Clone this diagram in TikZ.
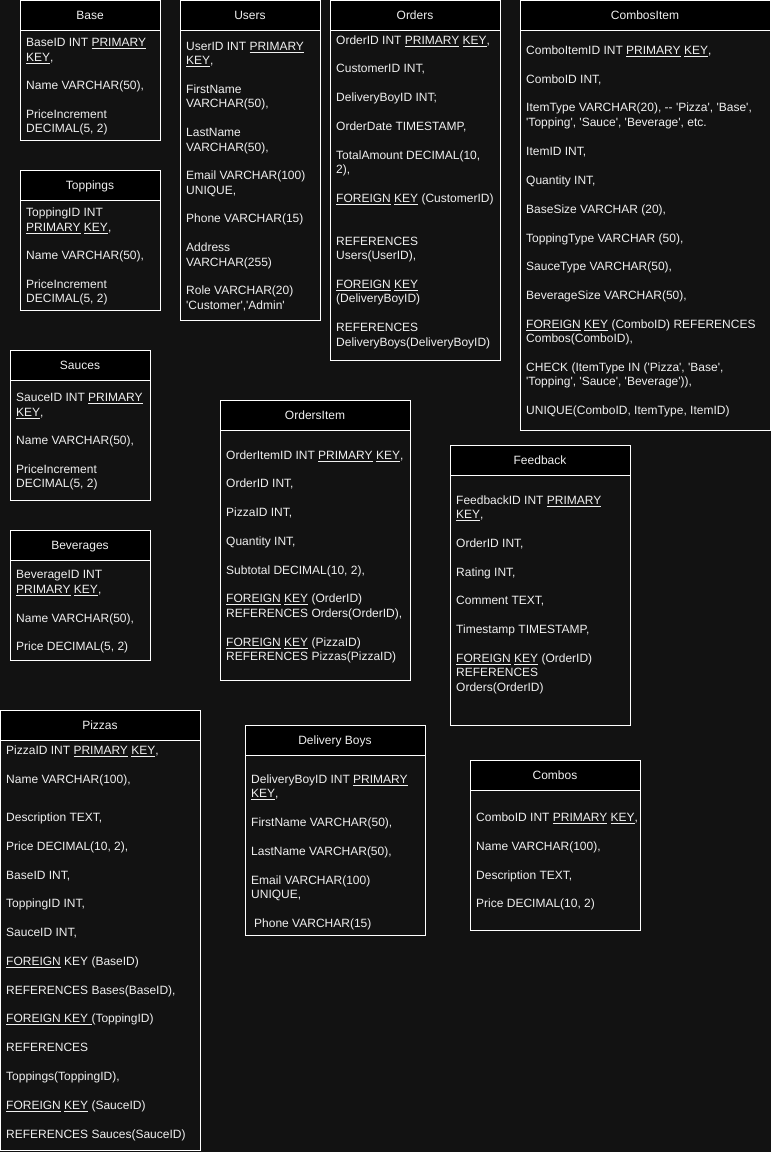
\documentclass[tikz,border=0pt]{standalone}
\usepackage{fontspec}
\setmainfont{Liberation Sans}
\definecolor{bgc}{HTML}{121212}
\definecolor{txc}{HTML}{F0F0F0}
\newcommand\sq{\textquotesingle}
\newcommand\ul[1]{\underline{#1}}
\tikzset{
  tbody/.style={draw=white, line width=1pt, fill=bgc, inner sep=0pt, rectangle},
  thead/.style={draw=white, line width=1pt, fill=black, inner sep=0pt, rectangle, text=txc, font=\fontsize{12}{14}\selectfont, text height=8.6pt, text depth=0pt},
  rowtxt/.style={anchor=west, inner sep=0pt, text=txc, font=\fontsize{12}{14}\selectfont, text height=8.6pt, text depth=0pt}
}
\newcommand\dbtable[6]{%
  \node[tbody, minimum width={#4-#2}, minimum height={#5-#3}] (#1) at ({(#2+#4)/2},{(#3+#5)/2}) {};
  \node[thead, minimum width={#4-#2}, minimum height=30] (#1-h) at ({(#2+#4)/2},{#3+15}) {#6};
}
\newcommand\dbrow[4]{\node[rowtxt] (#1) at (#2,#3) {#4};}
\begin{document}
\begin{tikzpicture}[x=1pt,y=-1pt]
\useasboundingbox (0,0) rectangle (771,1152);
\fill[bgc] (0,0) rectangle (771,1152);

% Base
\dbtable{base}{20}{0}{160}{140}{Base}
\dbrow{base-1}{26}{42}{BaseID INT \ul{PRIMARY}}
\dbrow{base-2}{26}{57}{\ul{KEY},}
\dbrow{base-3}{26}{85}{Name VARCHAR(50),}
\dbrow{base-4}{26}{114}{PriceIncrement}
\dbrow{base-5}{26}{128}{DECIMAL(5, 2)}

% Users
\dbtable{users}{180}{0}{320}{320}{Users}
\dbrow{users-1}{186}{46}{UserID INT \ul{PRIMARY}}
\dbrow{users-2}{186}{60}{\ul{KEY},}
\dbrow{users-3}{186}{89}{FirstName}
\dbrow{users-4}{186}{103}{VARCHAR(50),}
\dbrow{users-5}{186}{132}{LastName}
\dbrow{users-6}{186}{147}{VARCHAR(50),}
\dbrow{users-7}{186}{175}{Email VARCHAR(100)}
\dbrow{users-8}{186}{190}{UNIQUE,}
\dbrow{users-9}{186}{218}{Phone VARCHAR(15)}
\dbrow{users-10}{186}{247}{Address}
\dbrow{users-11}{186}{262}{VARCHAR(255)}
\dbrow{users-12}{186}{290}{Role VARCHAR(20)}
\dbrow{users-13}{186}{305}{\sq Customer\sq,\sq Admin\sq}

% Orders
\dbtable{orders}{330}{0}{500}{360}{Orders}
\dbrow{orders-1}{336}{40}{OrderID INT \ul{PRIMARY} \ul{KEY},}
\dbrow{orders-2}{336}{68}{CustomerID INT,}
\dbrow{orders-3}{336}{97}{DeliveryBoyID INT;}
\dbrow{orders-4}{336}{126}{OrderDate TIMESTAMP,}
\dbrow{orders-5}{336}{155}{TotalAmount DECIMAL(10,}
\dbrow{orders-6}{336}{169}{2),}
\dbrow{orders-7}{336}{198}{\ul{FOREIGN} \ul{KEY} (CustomerID)}
\dbrow{orders-8}{336}{241}{REFERENCES}
\dbrow{orders-9}{336}{255}{Users(UserID),}
\dbrow{orders-10}{336}{284}{\ul{FOREIGN} \ul{KEY}}
\dbrow{orders-11}{336}{298}{(DeliveryBoyID)}
\dbrow{orders-12}{336}{327}{REFERENCES}
\dbrow{orders-13}{336}{342}{DeliveryBoys(DeliveryBoyID)}

% CombosItem
\dbtable{ci}{520}{0}{770}{430}{CombosItem}
\dbrow{ci-1}{526}{50}{ComboItemID INT \ul{PRIMARY} \ul{KEY},}
\dbrow{ci-2}{526}{79}{ComboID INT,}
\dbrow{ci-3}{526}{107}{ItemType VARCHAR(20), -{}- \sq Pizza\sq, \sq Base\sq,}
\dbrow{ci-4}{526}{122}{\sq Topping\sq, \sq Sauce\sq, \sq Beverage\sq, etc.}
\dbrow{ci-5}{526}{151}{ItemID INT,}
\dbrow{ci-6}{526}{180}{Quantity INT,}
\dbrow{ci-7}{526}{209}{BaseSize VARCHAR (20),}
\dbrow{ci-8}{526}{238}{ToppingType VARCHAR (50),}
\dbrow{ci-9}{526}{266}{SauceType VARCHAR(50),}
\dbrow{ci-10}{526}{295}{BeverageSize VARCHAR(50),}
\dbrow{ci-11}{526}{324}{\ul{FOREIGN} \ul{KEY} (ComboID) REFERENCES}
\dbrow{ci-12}{526}{338}{Combos(ComboID),}
\dbrow{ci-13}{526}{367}{CHECK (ItemType IN (\sq Pizza\sq, \sq Base\sq,}
\dbrow{ci-14}{526}{381}{\sq Topping\sq, \sq Sauce\sq, \sq Beverage\sq)),}
\dbrow{ci-15}{526}{410}{UNIQUE(ComboID, ItemType, ItemID)}

% Toppings
\dbtable{top}{20}{170}{160}{310}{Toppings}
\dbrow{top-1}{26}{212}{ToppingID INT}
\dbrow{top-2}{26}{227}{\ul{PRIMARY} \ul{KEY},}
\dbrow{top-3}{26}{255}{Name VARCHAR(50),}
\dbrow{top-4}{26}{284}{PriceIncrement}
\dbrow{top-5}{26}{298}{DECIMAL(5, 2)}

% Sauces
\dbtable{sau}{10}{350}{150}{500}{Sauces}
\dbrow{sau-1}{16}{397}{SauceID INT \ul{PRIMARY}}
\dbrow{sau-2}{16}{412}{\ul{KEY},}
\dbrow{sau-3}{16}{440}{Name VARCHAR(50),}
\dbrow{sau-4}{16}{469}{PriceIncrement}
\dbrow{sau-5}{16}{483}{DECIMAL(5, 2)}

% Beverages
\dbtable{bev}{10}{530}{150}{660}{Beverages}
\dbrow{bev-1}{16}{574}{BeverageID INT}
\dbrow{bev-2}{16}{589}{\ul{PRIMARY} \ul{KEY},}
\dbrow{bev-3}{16}{618}{Name VARCHAR(50),}
\dbrow{bev-4}{16}{646}{Price DECIMAL(5, 2)}

% OrdersItem
\dbtable{oi}{220}{400}{410}{680}{OrdersItem}
\dbrow{oi-1}{226}{455}{OrderItemID INT \ul{PRIMARY} \ul{KEY},}
\dbrow{oi-2}{226}{483}{OrderID INT,}
\dbrow{oi-3}{226}{512}{PizzaID INT,}
\dbrow{oi-4}{226}{541}{Quantity INT,}
\dbrow{oi-5}{226}{570}{Subtotal DECIMAL(10, 2),}
\dbrow{oi-6}{226}{598}{\ul{FOREIGN} \ul{KEY} (OrderID)}
\dbrow{oi-7}{226}{613}{REFERENCES Orders(OrderID),}
\dbrow{oi-8}{226}{642}{\ul{FOREIGN} \ul{KEY} (PizzaID)}
\dbrow{oi-9}{226}{656}{REFERENCES Pizzas(PizzaID)}

% Feedback
\dbtable{fb}{450}{445}{630}{725}{Feedback}
\dbrow{fb-1}{456}{500}{FeedbackID INT \ul{PRIMARY}}
\dbrow{fb-2}{456}{514}{\ul{KEY},}
\dbrow{fb-3}{456}{543}{OrderID INT,}
\dbrow{fb-4}{456}{572}{Rating INT,}
\dbrow{fb-5}{456}{600}{Comment TEXT,}
\dbrow{fb-6}{456}{629}{Timestamp TIMESTAMP,}
\dbrow{fb-7}{456}{658}{\ul{FOREIGN} \ul{KEY} (OrderID)}
\dbrow{fb-8}{456}{672}{REFERENCES}
\dbrow{fb-9}{456}{687}{Orders(OrderID)}

% Pizzas
\dbtable{piz}{0}{710}{200}{1150}{Pizzas}
\dbrow{piz-1}{6}{750}{PizzaID INT \ul{PRIMARY} \ul{KEY},}
\dbrow{piz-2}{6}{779}{Name VARCHAR(100),}
\dbrow{piz-3}{6}{817}{Description TEXT,}
\dbrow{piz-4}{6}{846}{Price DECIMAL(10, 2),}
\dbrow{piz-5}{6}{875}{BaseID INT,}
\dbrow{piz-6}{6}{903}{ToppingID INT,}
\dbrow{piz-7}{6}{932}{SauceID INT,}
\dbrow{piz-8}{6}{961}{\ul{FOREIGN} KEY (BaseID)}
\dbrow{piz-9}{6}{990}{REFERENCES Bases(BaseID),}
\dbrow{piz-10}{6}{1018}{\ul{FOREIGN KEY }(ToppingID)}
\dbrow{piz-11}{6}{1047}{REFERENCES}
\dbrow{piz-12}{6}{1076}{Toppings(ToppingID),}
\dbrow{piz-13}{6}{1105}{\ul{FOREIGN} \ul{KEY} (SauceID)}
\dbrow{piz-14}{6}{1134}{REFERENCES Sauces(SauceID)}

% Delivery Boys
\dbtable{db}{245}{725}{425}{935}{Delivery Boys}
\dbrow{db-1}{251}{779}{DeliveryBoyID INT \ul{PRIMARY}}
\dbrow{db-2}{251}{793}{\ul{KEY},}
\dbrow{db-3}{251}{822}{FirstName VARCHAR(50),}
\dbrow{db-4}{251}{851}{LastName VARCHAR(50),}
\dbrow{db-5}{251}{880}{Email VARCHAR(100)}
\dbrow{db-6}{251}{894}{UNIQUE,}
\dbrow{db-7}{254}{923}{Phone VARCHAR(15)}

% Combos
\dbtable{cmb}{470}{760}{640}{930}{Combos}
\dbrow{cmb-1}{476}{817}{ComboID INT \ul{PRIMARY} \ul{KEY},}
\dbrow{cmb-2}{476}{846}{Name VARCHAR(100),}
\dbrow{cmb-3}{476}{875}{Description TEXT,}
\dbrow{cmb-4}{476}{903}{Price DECIMAL(10, 2)}
\end{tikzpicture}
\end{document}
